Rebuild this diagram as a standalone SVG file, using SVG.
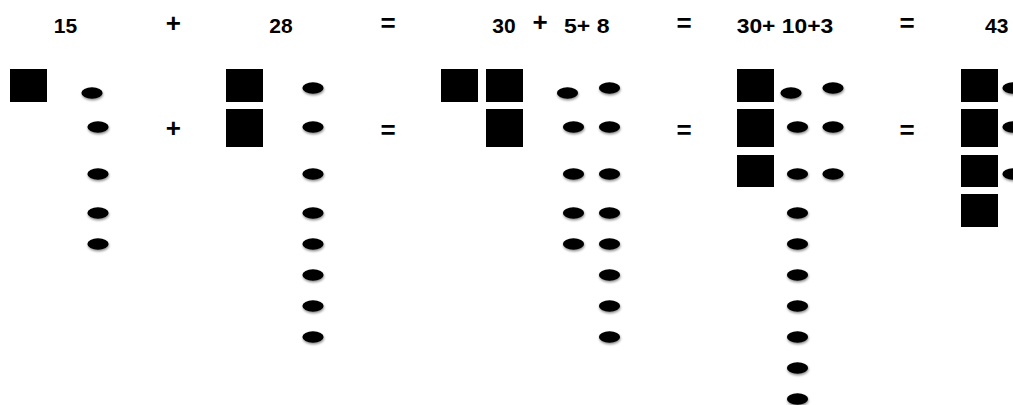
<svg xmlns="http://www.w3.org/2000/svg" xmlns:xlink="http://www.w3.org/1999/xlink" width="1013" height="405" viewBox="0 0 1013 405">
  <style>
    .lbl { font-family: "Liberation Sans", Arial, sans-serif; font-weight: bold; font-size: 21px; fill: #000; }
    .sign { font-family: "Liberation Sans", Arial, sans-serif; font-weight: bold; font-size: 26px; fill: #000; text-anchor: middle; }
    .mid { text-anchor: middle; }
    .sq { fill: #000; }
    .dot { fill: #000; filter: url(#shadow); }
  </style>
  <defs>
    <filter id="shadow" x="-30%" y="-40%" width="160%" height="200%">
      <feDropShadow dx="0.5" dy="1.6" stdDeviation="0.9" flood-color="#000" flood-opacity="0.45"/>
    </filter>
    <ellipse id="d" cx="0" cy="0" rx="10.6" ry="5.8"/>
  </defs>
  <rect width="1013" height="405" fill="#fff"/>

  <g id="labels">
    <text class="lbl mid" x="65.5" y="32.5">15</text>
    <text class="sign" x="173.3" y="32">+</text>
    <text class="lbl mid" x="281" y="32.5">28</text>
    <text class="sign" x="388" y="32">=</text>
    <text class="lbl mid" x="504" y="32.5">30</text>
    <text class="sign" x="540" y="31">+</text>
    <text class="lbl" x="564" y="32.5" textLength="45.5" lengthAdjust="spacingAndGlyphs">5+ 8</text>
    <text class="sign" x="684" y="32">=</text>
    <text class="lbl" x="736.7" y="32.5" textLength="96.6" lengthAdjust="spacingAndGlyphs">30+ 10+3</text>
    <text class="sign" x="907" y="32">=</text>
    <text class="lbl mid" x="996.7" y="32.5">43</text>
    <text class="sign" x="173.3" y="137">+</text>
    <text class="sign" x="388" y="139">=</text>
    <text class="sign" x="684" y="139">=</text>
    <text class="sign" x="907" y="139">=</text>
  </g>

  <g id="term-15">
    <rect class="sq" x="10" y="69" width="37" height="33"/>
    <use class="dot" xlink:href="#d" x="92" y="93"/>
    <use class="dot" xlink:href="#d" x="98" y="127"/>
    <use class="dot" xlink:href="#d" x="98" y="174"/>
    <use class="dot" xlink:href="#d" x="98" y="213"/>
    <use class="dot" xlink:href="#d" x="98" y="244"/>
  </g>

  <g id="term-28">
    <rect class="sq" x="226" y="69" width="37" height="33"/>
    <rect class="sq" x="226" y="109" width="37" height="38"/>
    <use class="dot" xlink:href="#d" x="313" y="88"/>
    <use class="dot" xlink:href="#d" x="313" y="127"/>
    <use class="dot" xlink:href="#d" x="313" y="174"/>
    <use class="dot" xlink:href="#d" x="313" y="213"/>
    <use class="dot" xlink:href="#d" x="313" y="244"/>
    <use class="dot" xlink:href="#d" x="313" y="275"/>
    <use class="dot" xlink:href="#d" x="313" y="306"/>
    <use class="dot" xlink:href="#d" x="313" y="337"/>
  </g>

  <g id="term-30-5-8">
    <rect class="sq" x="441" y="69" width="37" height="33"/>
    <rect class="sq" x="486" y="69" width="37" height="33"/>
    <rect class="sq" x="486" y="109" width="37" height="38"/>
    <use class="dot" xlink:href="#d" x="567.5" y="93"/>
    <use class="dot" xlink:href="#d" x="573.5" y="127"/>
    <use class="dot" xlink:href="#d" x="573.5" y="174"/>
    <use class="dot" xlink:href="#d" x="573.5" y="213"/>
    <use class="dot" xlink:href="#d" x="573.5" y="244"/>
    <use class="dot" xlink:href="#d" x="609.5" y="88"/>
    <use class="dot" xlink:href="#d" x="609.5" y="127"/>
    <use class="dot" xlink:href="#d" x="609.5" y="174"/>
    <use class="dot" xlink:href="#d" x="609.5" y="213"/>
    <use class="dot" xlink:href="#d" x="609.5" y="244"/>
    <use class="dot" xlink:href="#d" x="609.5" y="275"/>
    <use class="dot" xlink:href="#d" x="609.5" y="306"/>
    <use class="dot" xlink:href="#d" x="609.5" y="337"/>
  </g>

  <g id="term-30-10-3">
    <rect class="sq" x="737" y="69" width="37" height="33"/>
    <rect class="sq" x="737" y="109" width="37" height="38"/>
    <rect class="sq" x="737" y="155" width="37" height="32"/>
    <use class="dot" xlink:href="#d" x="791" y="93"/>
    <use class="dot" xlink:href="#d" x="797.5" y="127"/>
    <use class="dot" xlink:href="#d" x="797.5" y="174"/>
    <use class="dot" xlink:href="#d" x="797.5" y="213"/>
    <use class="dot" xlink:href="#d" x="797.5" y="244"/>
    <use class="dot" xlink:href="#d" x="797.5" y="275"/>
    <use class="dot" xlink:href="#d" x="797.5" y="306"/>
    <use class="dot" xlink:href="#d" x="797.5" y="337"/>
    <use class="dot" xlink:href="#d" x="797.5" y="368"/>
    <use class="dot" xlink:href="#d" x="797.5" y="399"/>
    <use class="dot" xlink:href="#d" x="833" y="88"/>
    <use class="dot" xlink:href="#d" x="833" y="127"/>
    <use class="dot" xlink:href="#d" x="833" y="174"/>
  </g>

  <g id="term-43">
    <rect class="sq" x="961" y="69" width="37" height="33"/>
    <rect class="sq" x="961" y="109" width="37" height="38"/>
    <rect class="sq" x="961" y="155" width="37" height="32"/>
    <rect class="sq" x="961" y="194" width="37" height="33"/>
    <use class="dot" xlink:href="#d" x="1013" y="88"/>
    <use class="dot" xlink:href="#d" x="1013" y="127"/>
    <use class="dot" xlink:href="#d" x="1013" y="174"/>
  </g>

  <g id="connectors"/>
</svg>
